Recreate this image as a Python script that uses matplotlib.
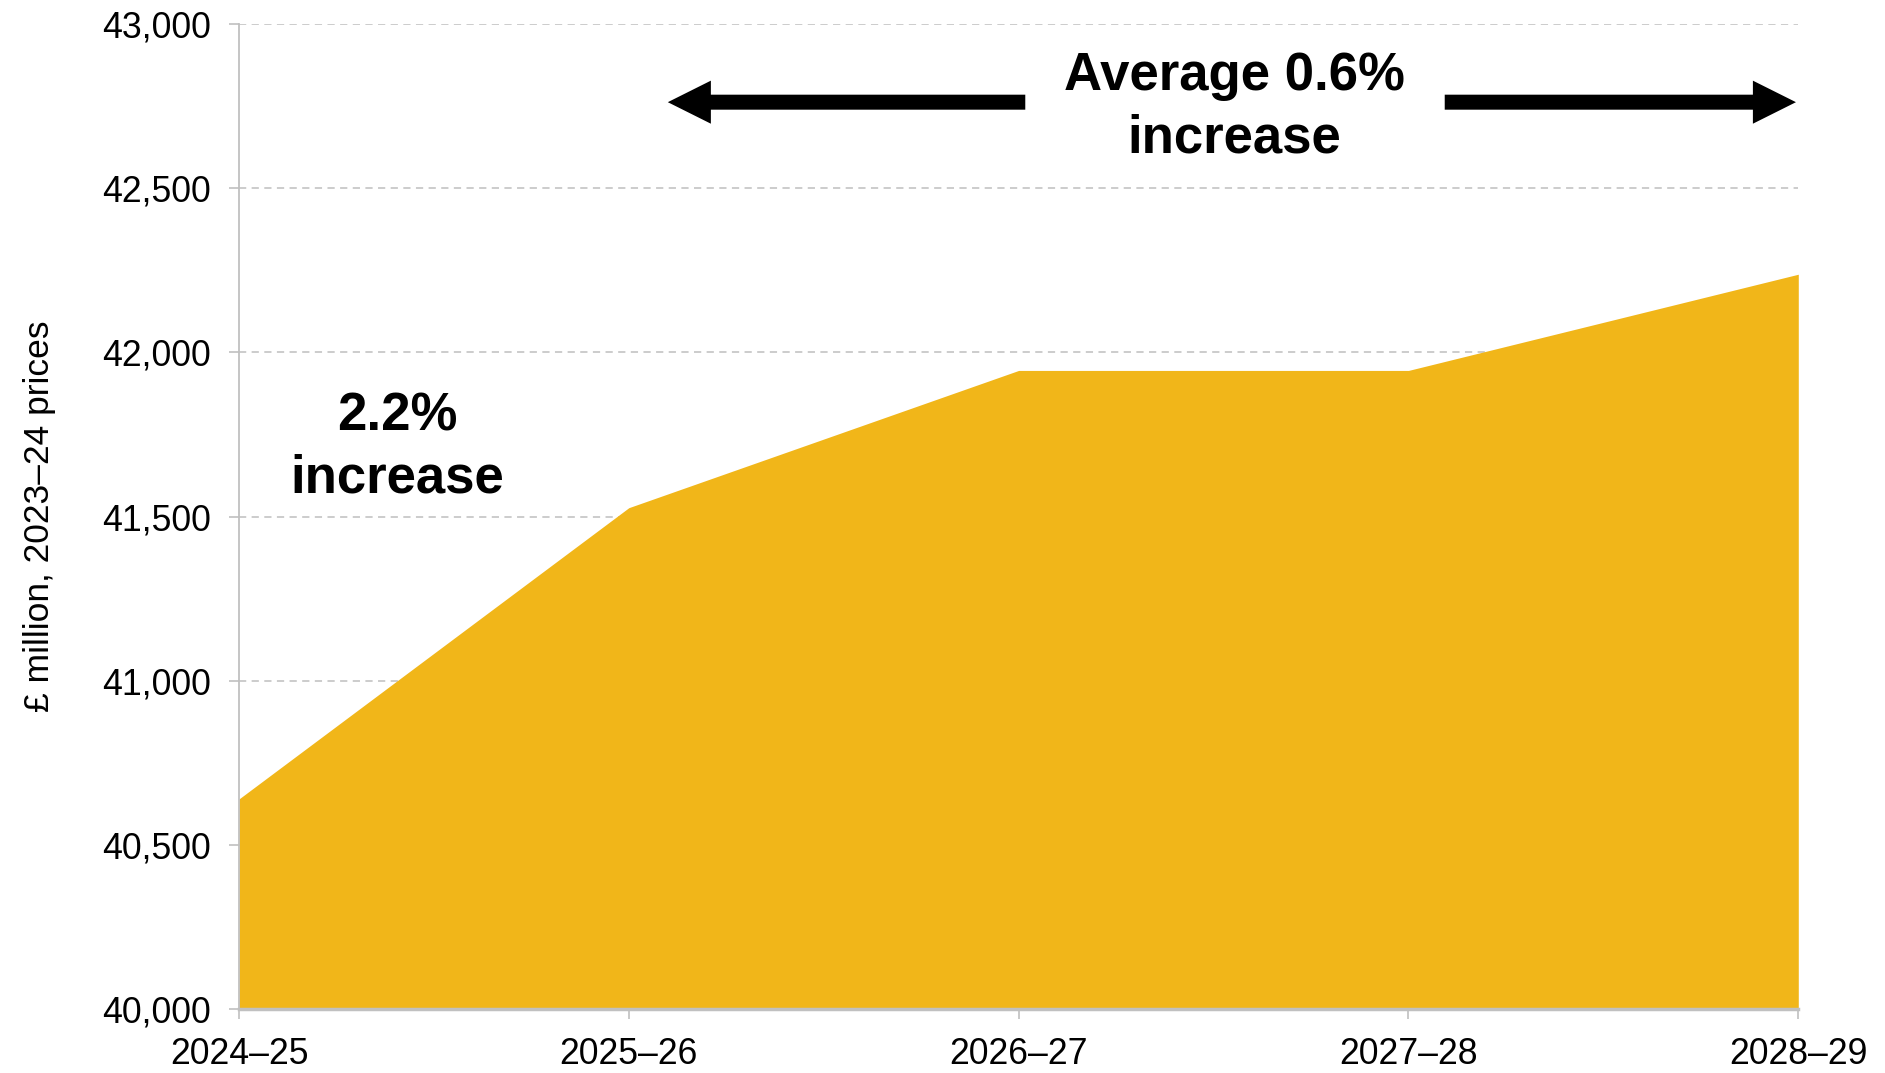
import matplotlib
matplotlib.use('Agg')
import matplotlib.pyplot as plt

# data (£ million, 2023-24 prices)
years = ['2024–25', '2025–26', '2026–27', '2027–28', '2028–29']
spending = [40640, 41527, 41945, 41945, 42238]
y_ticks = [40000, 40500, 41000, 41500, 42000, 42500, 43000]

plt.rcParams['font.family'] = ['Liberation Sans', 'DejaVu Sans']

fig = plt.figure(figsize=(18.85, 10.73), dpi=100)
ax = fig.add_axes([0.1268, 0.0596, 0.8272, 0.918])

x = list(range(len(years)))
ax.fill_between(x, 40000, spending, color='#F1B619', linewidth=0, zorder=2)

ax.set_xlim(0, len(years) - 1)
ax.set_ylim(40000, 43000)
ax.set_yticks(y_ticks)
ax.set_yticklabels([f'{v:,}' for v in y_ticks])
ax.set_xticks(x)
ax.set_xticklabels(years)

ax.grid(axis='y', color='#c8c8c8', linestyle=(0, (4, 3)), linewidth=1.3, zorder=1)
ax.tick_params(axis='both', labelsize=25.7, colors='#c0c0c0', labelcolor='black',
               length=7, width=1.2)
ax.tick_params(axis='x', pad=13)
ax.tick_params(axis='y', pad=13)
for s in ['top', 'right']:
    ax.spines[s].set_visible(False)
ax.spines['left'].set_color('#c0c0c0')
ax.spines['left'].set_linewidth(1.3)
ax.spines['bottom'].set_color('#c0c0c0')
ax.spines['bottom'].set_linewidth(2.5)
ax.spines['bottom'].set_zorder(3)

ax.set_ylabel('£ million, 2023–24 prices', fontsize=25.5)
ax.yaxis.set_label_coords(-0.1175, 0.5)

# annotations
ax.text(0.407, 41710, '2.2%\nincrease', fontsize=38, fontweight='bold',
        ha='center', va='center', linespacing=1.32, zorder=4)
ax.text(2.554, 42747, 'Average 0.6%\nincrease', fontsize=38, fontweight='bold',
        ha='center', va='center', linespacing=1.32, zorder=4)

astyle = 'simple,head_length=31,head_width=31,tail_width=10.8'
ax.annotate('', xy=(1.1, 42762), xytext=(2.017, 42762),
            arrowprops=dict(arrowstyle=astyle, color='black', mutation_scale=1,
                            shrinkA=0, shrinkB=0, lw=0))
ax.annotate('', xy=(3.994, 42762), xytext=(3.093, 42762),
            arrowprops=dict(arrowstyle=astyle, color='black', mutation_scale=1,
                            shrinkA=0, shrinkB=0, lw=0))

fig.savefig('out.png', dpi=100)
